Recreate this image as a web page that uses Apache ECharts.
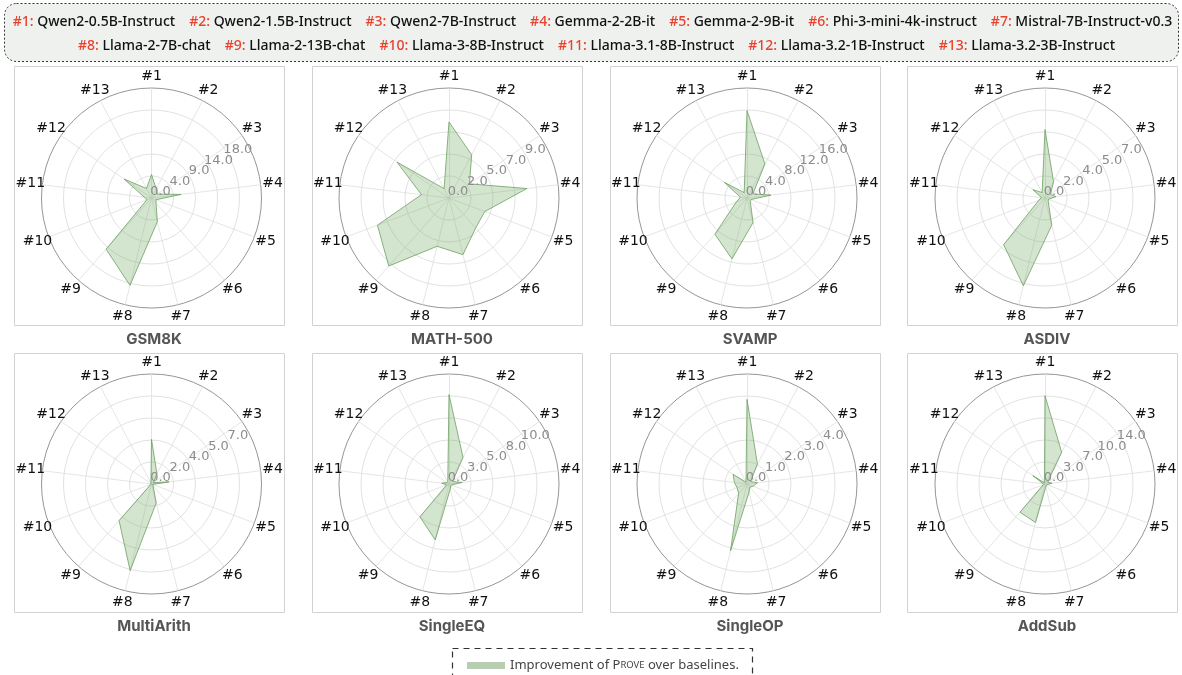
<!DOCTYPE html>
<html><head><meta charset="utf-8">
<script src="https://cdn.jsdelivr.net/npm/echarts@6/dist/echarts.min.js"></script>
<style>html,body{margin:0;padding:0;background:#fff}#c{width:1182px;height:675px}</style>
</head><body><div id="c"></div>
<script>
const axisNames = ['#1','#2','#3','#4','#5','#6','#7','#8','#9','#10','#11','#12','#13'];
const modelNames = ['Qwen2-0.5B-Instruct','Qwen2-1.5B-Instruct','Qwen2-7B-Instruct','Gemma-2-2B-it','Gemma-2-9B-it','Phi-3-mini-4k-instruct','Mistral-7B-Instruct-v0.3','Llama-2-7B-chat','Llama-2-13B-chat','Llama-3-8B-Instruct','Llama-3.1-8B-Instruct','Llama-3.2-1B-Instruct','Llama-3.2-3B-Instruct'];
const datasets = ['GSM8K','MATH-500','SVAMP','ASDIV','MultiArith','SingleEQ','SingleOP','AddSub'];
const axisMax = [22.5, 11.5, 20, 9, 9, 12.8, 5.2, 17.2];
const ringLabels = [
  ['0.0','4.0','9.0','14.0','18.0'],
  ['0.0','2.0','5.0','7.0','9.0'],
  ['0.0','4.0','8.0','12.0','16.0'],
  ['0.0','2.0','4.0','5.0','7.0'],
  ['0.0','2.0','4.0','5.0','7.0'],
  ['0.0','3.0','5.0','8.0','10.0'],
  ['0.0','1.0','2.0','3.0','4.0'],
  ['0.0','3.0','7.0','10.0','14.0']
];
const gsm8k      = [4.8, 2.1, 1.4, 6.1, 1.0, 1.4, 5.0, 18.4, 14.0, 1.0, 1.5, 6.8, 2.2];
const math500    = [7.95, 5.1, 2.6, 8.2, 4.0, 4.2, 6.1, 5.2, 9.5, 8.0, 2.9, 6.6, 1.1];
const svamp      = [15.9, 7.0, 1.3, 4.4, 0.8, 0.9, 4.6, 11.4, 8.8, 2.1, 1.2, 5.0, 1.1];
const asdiv      = [5.6, 1.5, 0.55, 0.9, 0.3, 0.4, 2.3, 7.4, 5.1, 0.55, 0.3, 1.2, 0.5];
const multiarith = [3.65, 0.95, 0.2, 1.45, 0.1, 0.2, 1.6, 7.3, 4.0, 0.05, 0.05, 0.05, 0.1];
const singleeq   = [10.4, 3.5, 0.5, 1.55, 0.3, 0.3, 0.6, 6.7, 5.1, 0.3, 0.85, 0.3, 0.3];
const singleop   = [4.0, 1.06, 0.2, 0.5, 0.3, 0.2, 0.4, 3.25, 0.6, 0.5, 0.6, 0.8, 0.1];
const addsub     = [13.8, 5.6, 0.5, 1.1, 0.3, 0.3, 0.5, 6.2, 5.9, 0.3, 0.3, 2.3, 0.2];
const seriesValues = [gsm8k, math500, svamp, asdiv, multiarith, singleeq, singleop, addsub];
const legendName = 'Improvement of Prove over baselines.';

// layout
const CX = [151.5, 449, 747, 1045];
const CY = [198, 484];
const R = 110;
const BOX_X = [14, 312, 610, 907];
const BOX_W = 270;
const BOX_Y = [66, 353];
const BOX_H = 259;
const TITLE_Y = [327, 614];
const RLABEL_ANGLE = 28.5;

// ECharts radar runs counter-clockwise; list axes in that order so #1..#13 read clockwise
const order = [0].concat(axisNames.map((_, k) => k).slice(1).reverse());

const chart = echarts.init(document.getElementById('c'), null, {renderer: 'canvas'});

const radars = [], polars = [], angleAxes = [], radiusAxes = [], series = [], titles = [], graphics = [];
const labelStyle = {
  color: '#8c8c8c', fontSize: 13, fontFamily: 'DejaVu Sans',
  margin: 0, align: 'center', verticalAlign: 'bottom', lineHeight: 12, padding: [0, 0, 0, 18]
};
datasets.forEach((d, i) => {
  const row = Math.floor(i / 4), col = i % 4;
  const center = [CX[col], CY[row]];
  radars.push({
    center, radius: R, shape: 'circle', splitNumber: 5, startAngle: 90,
    indicator: order.map(k => ({name: axisNames[k], min: 0, max: axisMax[i]})),
    nameGap: 12,
    axisName: {color: '#111', fontSize: 14, fontFamily: 'DejaVu Sans', align: 'center', verticalAlign: 'middle'},
    axisLine: {lineStyle: {color: '#dedede', width: 0.8}},
    axisTick: {show: false},
    axisLabel: {show: false},
    splitArea: {show: false},
    splitLine: {lineStyle: {color: ['#dedede','#dedede','#dedede','#dedede','#dedede','#8a8a8a'], width: 0.9}}
  });
  // two label-only polar systems per panel: one for the centre label, one for the rings
  [0, 1].forEach(part => {
    const pi = polars.length;
    polars.push({center, radius: R});
    angleAxes.push({polarIndex: pi, type: 'value', min: 0, max: 360, startAngle: RLABEL_ANGLE, show: false});
    radiusAxes.push({
      polarIndex: pi, type: 'value', min: 0, max: axisMax[i], interval: axisMax[i] / 5,
      axisLine: {show: false}, axisTick: {show: false}, splitLine: {show: false},
      axisLabel: Object.assign({}, labelStyle, {
        formatter: (v, idx) => (part === 0 ? (idx === 0 ? ringLabels[i][0] : '') : (idx > 0 ? (ringLabels[i][idx] || '') : '')),
        showMinLabel: part === 0, showMaxLabel: false
      }),
      z: 5
    });
  });
  series.push({
    type: 'radar', radarIndex: i, symbol: 'none',
    lineStyle: {color: '#6b9d60', width: 0.8},
    areaStyle: {color: '#76ad69', opacity: 0.32},
    data: [{name: legendName, value: order.map(k => seriesValues[i][k])}]
  });
  titles.push({
    text: d, left: BOX_X[col] + BOX_W / 2, top: TITLE_Y[row], textAlign: 'center',
    textStyle: {fontSize: 15, fontWeight: 'bold', color: '#555', fontFamily: 'Inter'}
  });
  graphics.push({
    type: 'rect', z: -1, silent: true,
    shape: {x: BOX_X[col] + 0.5, y: BOX_Y[row] + 0.5, width: BOX_W, height: BOX_H},
    style: {fill: 'none', stroke: '#d2d2d2', lineWidth: 1}
  });
});

// header legend box
graphics.push({
  type: 'rect', silent: true, z: -2,
  shape: {x: 4.5, y: 3.5, width: 1174, height: 58, r: 12},
  style: {fill: '#eef1ee', stroke: '#333', lineWidth: 1, lineDash: [2, 2]}
});
function headerLine(idxs) {
  return idxs.map(k => `{r|#${k + 1}:} {t|${modelNames[k]}}`).join('{g| }');
}
const headerRich = {
  r: {fill: '#e8412e', fontSize: 14, fontWeight: 500, fontFamily: 'Noto Sans'},
  t: {fill: '#111', fontSize: 14, fontWeight: 500, fontFamily: 'Noto Sans'},
  g: {width: 14, fontSize: 14}
};
graphics.push({
  type: 'text', silent: true, x: 592.5, y: 22,
  style: {text: headerLine([0,1,2,3,4,5,6]), rich: headerRich, align: 'center', verticalAlign: 'middle', fill: '#111', font: '500 14px "Noto Sans"'}
});
graphics.push({
  type: 'text', silent: true, x: 596.5, y: 46,
  style: {text: headerLine([7,8,9,10,11,12]), rich: headerRich, align: 'center', verticalAlign: 'middle', fill: '#111', font: '500 14px "Noto Sans"'}
});
// bottom legend box
graphics.push({
  type: 'rect', silent: true, z: -2,
  shape: {x: 452.5, y: 648.5, width: 300, height: 40},
  style: {fill: 'none', stroke: '#333', lineWidth: 1.2, lineDash: [6, 5]}
});

chart.setOption({
  animation: false,
  backgroundColor: '#fff',
  title: titles,
  radar: radars,
  polar: polars,
  angleAxis: angleAxes,
  radiusAxis: radiusAxes,
  legend: {
    left: 462, top: 654, itemWidth: 38, itemHeight: 7, icon: 'rect', itemGap: 10,
    data: [{name: legendName, itemStyle: {color: '#b8ceb2'}}],
    selectedMode: false,
    formatter: () => 'Improvement of P{s|ROVE} over baselines.',
    textStyle: {
      color: '#444', fontSize: 13, fontFamily: 'Noto Sans',
      rich: {s: {fontSize: 9.5, color: '#444', fontFamily: 'Noto Sans'}}
    }
  },
  graphic: graphics,
  series
});
</script></body></html>
